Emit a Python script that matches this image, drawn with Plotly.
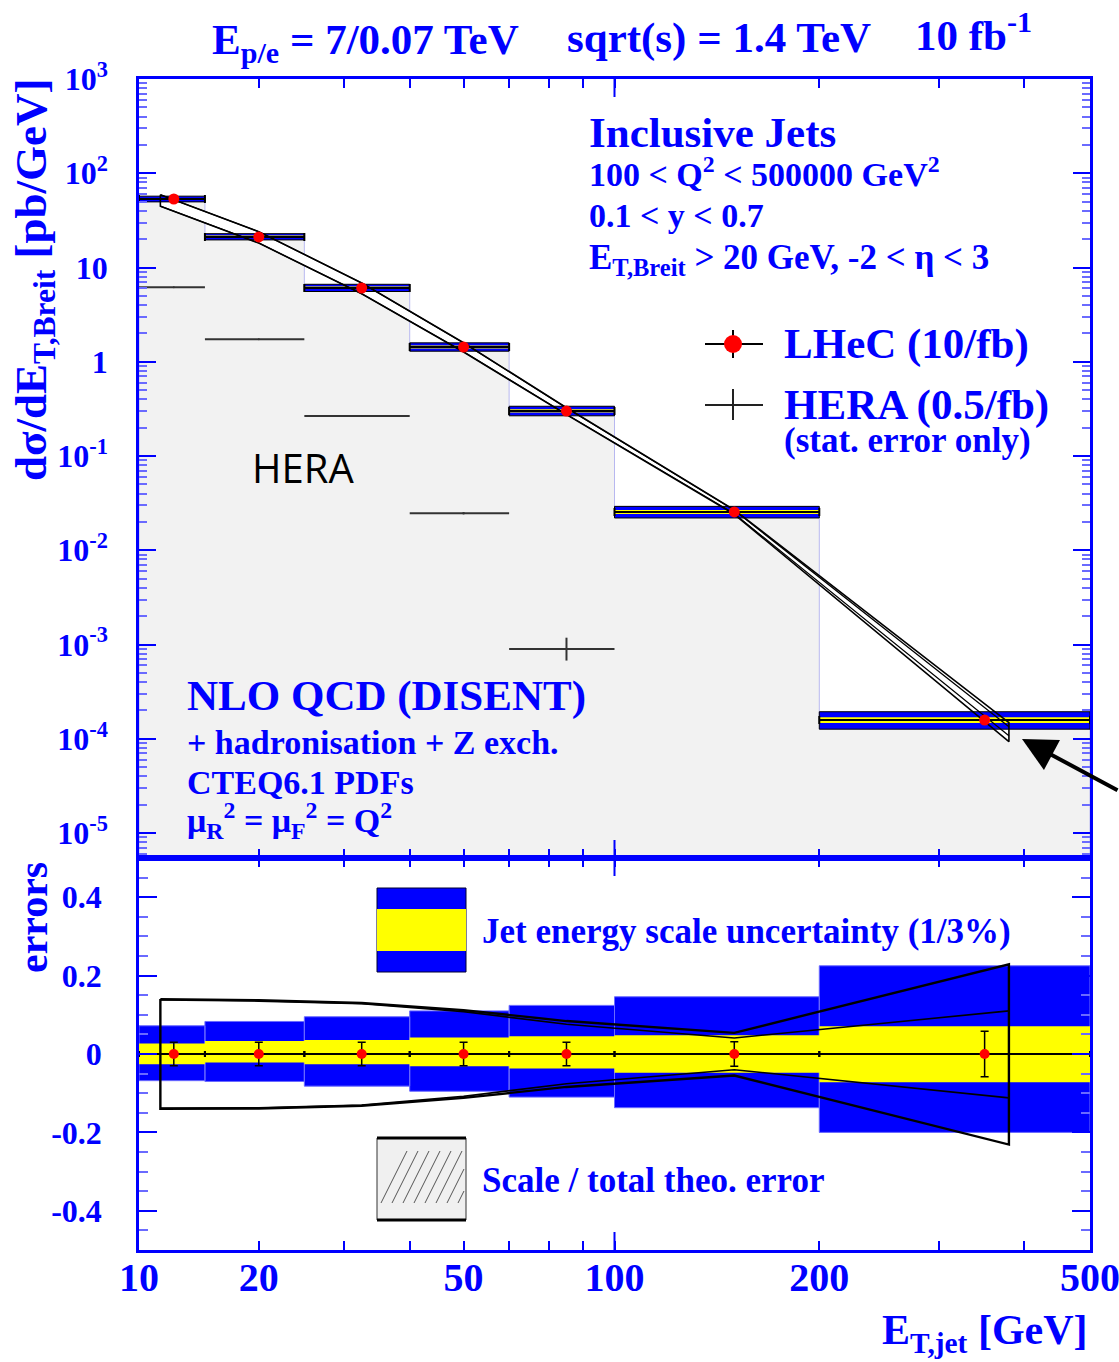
import math
import plotly.graph_objects as go

# ---------------- data ----------------
bin_lo = [20, 25, 35, 50, 70, 100, 200]
bin_hi = [25, 35, 50, 70, 100, 200, 500]
et_center = [22.5, 30, 42.5, 60, 85, 150, 350]
lhec_xsec = [53.3, 21.1, 6.06, 1.43, 0.30, 0.0255, 1.58e-4]
lhec_stat = [0.030, 0.030, 0.030, 0.030, 0.030, 0.031, 0.058]

jes3_up = [0.072, 0.083, 0.095, 0.110, 0.124, 0.146, 0.225]
jes3_dn = [0.068, 0.070, 0.082, 0.095, 0.110, 0.137, 0.200]
jes1_up = [0.027, 0.033, 0.036, 0.042, 0.045, 0.048, 0.071]
jes1_dn = [0.026, 0.022, 0.026, 0.031, 0.037, 0.048, 0.072]

hera_center = [22.5, 30, 42.5, 60, 85]
hera_lo = [20, 25, 35, 50, 70]
hera_hi = [25, 35, 50, 70, 100]
hera_xsec = [6.17, 1.73, 0.265, 0.0247, 8.95e-4]
hera_stat_up = [0.005, 0.008, 0.012, 0.025, 0.32]
hera_stat_dn = [0.005, 0.008, 0.012, 0.025, 0.245]

th_et = [21.5, 30, 42.5, 60, 85, 150, 380]
th_xsec = [52.0, 21.1, 6.06, 1.43, 0.30, 0.0255, 1.21e-4]
th_tot_up = [0.140, 0.137, 0.130, 0.112, 0.084, 0.054, 0.229]
th_tot_dn = [0.140, 0.139, 0.132, 0.112, 0.084, 0.055, 0.231]
th_scl_up = [0.138, 0.135, 0.128, 0.108, 0.076, 0.041, 0.110]
th_scl_dn = [0.138, 0.137, 0.130, 0.108, 0.076, 0.040, 0.112]

x_tickvals = [20, 30, 60, 100, 200, 500]
x_ticktext = ["10", "20", "50", "100", "200", "500"]
x_minorvals = [40, 50, 70, 80, 90, 300, 400]
y_tickvals = [1e-5, 1e-4, 1e-3, 1e-2, 1e-1, 1, 10, 100, 1000]
y_ticktext = ["10<sup>-5</sup>", "10<sup>-4</sup>", "10<sup>-3</sup>", "10<sup>-2</sup>",
              "10<sup>-1</sup>", "1", "10", "10<sup>2</sup>", "10<sup>3</sup>"]
y2_tickvals = [-0.4, -0.2, 0, 0.2, 0.4]
y2_ticktext = ["-0.4", "-0.2", "0", "0.2", "0.4"]

# ---------------- geometry / style ----------------
FIG_W, FIG_H = 1119, 1362
M_L, M_R, M_T, M_B = 139, 29, 79, 112
PW, PH = FIG_W - M_L - M_R, FIG_H - M_T - M_B
SPLIT = (FIG_H - M_B - 858) / PH
BLUE = "#0000ff"
SERIF = "Liberation Serif"
Y_FLOOR = 1e-7
XR = [math.log10(20) - 1e-6, math.log10(500) + 1e-6]


def px(xp):
    return (xp - M_L) / PW


def py(yp):
    return (FIG_H - M_B - yp) / PH


fig = go.Figure()

# gray histogram fill (top)
hx, hy = [bin_lo[0]], [Y_FLOOR]
for lo, hi, v in zip(bin_lo, bin_hi, lhec_xsec):
    hx += [lo, hi]
    hy += [v, v]
hx.append(bin_hi[-1]); hy.append(Y_FLOOR)
fig.add_trace(go.Scatter(x=hx, y=hy, mode="lines", fill="toself", fillcolor="#f2f2f2",
                         line=dict(color="#b8b8f0", width=1), hoverinfo="skip",
                         xaxis="x", yaxis="y", showlegend=False))

# theory total band white fill (top)
tx = th_et + th_et[::-1]
ty_tot = [c * (1 + u) for c, u in zip(th_xsec, th_tot_up)] + \
         [c * (1 - d) for c, d in zip(th_xsec, th_tot_dn)][::-1]
fig.add_trace(go.Scatter(x=tx, y=ty_tot, mode="lines", fill="toself", fillcolor="white",
                         line=dict(width=0), hoverinfo="skip", xaxis="x", yaxis="y",
                         showlegend=False))


def band(lo_list, hi_list, ylo, yhi):
    xs, ys = [], []
    for lo, hi, a, b in zip(lo_list, hi_list, ylo, yhi):
        xs += [lo, hi, hi, lo, lo, None]
        ys += [a, a, b, b, a, None]
    return xs, ys


# JES bands top
bx, byy = band(bin_lo, bin_hi, [v * (1 - d) for v, d in zip(lhec_xsec, jes3_dn)],
               [v * (1 + u) for v, u in zip(lhec_xsec, jes3_up)])
fig.add_trace(go.Scatter(x=bx, y=byy, mode="lines", fill="toself", fillcolor=BLUE,
                         line=dict(color="black", width=1), hoverinfo="skip",
                         xaxis="x", yaxis="y", showlegend=False))
bx, byy = band(bin_lo, bin_hi, [v * (1 - d) for v, d in zip(lhec_xsec, jes1_dn)],
               [v * (1 + u) for v, u in zip(lhec_xsec, jes1_up)])
fig.add_trace(go.Scatter(x=bx, y=byy, mode="lines", fill="toself", fillcolor="#ffff00",
                         line=dict(width=0), hoverinfo="skip",
                         xaxis="x", yaxis="y", showlegend=False))

# theory lines top
fig.add_trace(go.Scatter(x=tx + [tx[0]], y=ty_tot + [ty_tot[0]], mode="lines",
                         line=dict(color="black", width=1.6), hoverinfo="skip",
                         xaxis="x", yaxis="y", showlegend=False))
for rel, sgn in ((th_scl_up, 1), (th_scl_dn, -1)):
    fig.add_trace(go.Scatter(x=th_et, y=[c * (1 + sgn * r) for c, r in zip(th_xsec, rel)],
                             mode="lines", line=dict(color="black", width=1.2),
                             hoverinfo="skip", xaxis="x", yaxis="y", showlegend=False))

# HERA points
fig.add_trace(go.Scatter(
    x=hera_center, y=hera_xsec, mode="markers",
    marker=dict(size=2, color="#333333"),
    error_x=dict(type="data", symmetric=False,
                 array=[h - c for h, c in zip(hera_hi, hera_center)],
                 arrayminus=[c - l for c, l in zip(hera_center, hera_lo)],
                 color="#333333", thickness=2, width=0),
    error_y=dict(type="data", symmetric=False,
                 array=[v * e for v, e in zip(hera_xsec, hera_stat_up)],
                 arrayminus=[v * e for v, e in zip(hera_xsec, hera_stat_dn)],
                 color="#333333", thickness=2, width=0),
    xaxis="x", yaxis="y", showlegend=False, hoverinfo="skip"))

# LHeC points top
fig.add_trace(go.Scatter(
    x=et_center, y=lhec_xsec, mode="markers",
    marker=dict(size=11, color="#ff0000"),
    error_x=dict(type="data", symmetric=False,
                 array=[h - c for h, c in zip(bin_hi, et_center)],
                 arrayminus=[c - l for c, l in zip(et_center, bin_lo)],
                 color="black", thickness=2, width=4),
    error_y=dict(type="data", array=[v * s for v, s in zip(lhec_xsec, lhec_stat)],
                 color="black", thickness=1.5, width=3),
    xaxis="x", yaxis="y", showlegend=False, hoverinfo="skip"))

# ---------------- bottom panel ----------------
bx, byy = band(bin_lo, bin_hi, [-d for d in jes3_dn], jes3_up)
fig.add_trace(go.Scatter(x=bx, y=byy, mode="lines", fill="toself", fillcolor=BLUE,
                         line=dict(color="#6a6aff", width=1), hoverinfo="skip",
                         xaxis="x2", yaxis="y2", showlegend=False))
bx, byy = band(bin_lo, bin_hi, [-d for d in jes1_dn], jes1_up)
fig.add_trace(go.Scatter(x=bx, y=byy, mode="lines", fill="toself", fillcolor="#ffff00",
                         line=dict(width=0), hoverinfo="skip",
                         xaxis="x2", yaxis="y2", showlegend=False))

rel_tot = list(th_tot_up) + [-d for d in th_tot_dn][::-1]
fig.add_trace(go.Scatter(x=tx + [tx[0]], y=rel_tot + [rel_tot[0]], mode="lines",
                         line=dict(color="black", width=2.4), hoverinfo="skip",
                         xaxis="x2", yaxis="y2", showlegend=False))
fig.add_trace(go.Scatter(x=th_et, y=th_scl_up, mode="lines",
                         line=dict(color="black", width=1.6), hoverinfo="skip",
                         xaxis="x2", yaxis="y2", showlegend=False))
fig.add_trace(go.Scatter(x=th_et, y=[-d for d in th_scl_dn], mode="lines",
                         line=dict(color="black", width=1.6), hoverinfo="skip",
                         xaxis="x2", yaxis="y2", showlegend=False))

fig.add_trace(go.Scatter(
    x=et_center, y=[0.0] * len(et_center), mode="markers",
    marker=dict(size=10, color="#ff0000"),
    error_x=dict(type="data", symmetric=False,
                 array=[h - c for h, c in zip(bin_hi, et_center)],
                 arrayminus=[c - l for c, l in zip(et_center, bin_lo)],
                 color="black", thickness=2, width=3),
    error_y=dict(type="data", array=lhec_stat, color="black", thickness=1.5, width=4),
    xaxis="x2", yaxis="y2", showlegend=False, hoverinfo="skip"))

# ---------------- axes ----------------
tickfont_y = dict(family=SERIF, size=32, color=BLUE, weight="bold")
tickfont_x = dict(family=SERIF, size=40, color=BLUE, weight="bold")
common_x = dict(type="log", range=XR, showgrid=False, zeroline=False, showline=True,
                linecolor=BLUE, linewidth=2.5, mirror="ticks", ticks="inside",
                tickcolor=BLUE, tickwidth=2, ticklen=9, tickmode="array",
                tickvals=x_tickvals, automargin=False,
                minor=dict(tickmode="array", tickvals=x_minorvals, ticks="inside",
                           ticklen=9, tickcolor=BLUE, tickwidth=2, showgrid=False))
fig.update_layout(
    width=FIG_W, height=FIG_H,
    margin=dict(l=M_L, r=M_R, t=M_T, b=M_B, autoexpand=False),
    paper_bgcolor="white", plot_bgcolor="white", showlegend=False,
    xaxis=dict(common_x, anchor="y", showticklabels=False, ticktext=x_ticktext),
    xaxis2=dict(common_x, anchor="y2", matches="x", showticklabels=True,
                ticktext=x_ticktext, tickfont=tickfont_x, ticklabelstandoff=-10,
                ticklabeloverflow="allow"),
    yaxis=dict(type="log", domain=[SPLIT, 1], range=[-5.265, 3], showgrid=False,
               zeroline=False, showline=True, linecolor=BLUE, linewidth=2.5,
               mirror="ticks", ticks="inside", tickcolor=BLUE, tickwidth=2, ticklen=17,
               tickmode="array", tickvals=y_tickvals, ticktext=y_ticktext,
               tickfont=tickfont_y, ticklabelstandoff=22, anchor="x",
               ticklabeloverflow="allow", automargin=False,
               minor=dict(tickmode="array",
                          tickvals=[k * 10.0 ** e for e in range(-6, 3) for k in range(2, 10)],
                          ticks="inside", ticklen=8, tickcolor="#6a6aff", tickwidth=1.5,
                          showgrid=False)),
    yaxis2=dict(domain=[0, SPLIT], range=[-0.5, 0.5], showgrid=False, zeroline=False,
                showline=True, linecolor=BLUE, linewidth=2.5, mirror="ticks",
                ticks="inside", tickcolor=BLUE, tickwidth=2, ticklen=18,
                tickmode="array", tickvals=y2_tickvals, ticktext=y2_ticktext,
                tickfont=tickfont_y, ticklabelstandoff=28, anchor="x2", automargin=False,
                minor=dict(dtick=0.05, ticks="inside", ticklen=9, tickcolor="#6a6aff",
                           tickwidth=1.5, showgrid=False)),
)

# long tick at 100 GeV on all four horizontal edges
f100 = (2.0 - XR[0]) / (XR[1] - XR[0])
top_h = 1 - SPLIT
for yref, y0, y1 in (("y2 domain", 0, 18 / (SPLIT * PH)), ("y2 domain", 1, 1 - 18 / (SPLIT * PH)),
                     ("y domain", 0, 18 / (top_h * PH)), ("y domain", 1, 1 - 18 / (top_h * PH))):
    fig.add_shape(type="line", xref="x domain", yref=yref, x0=f100, x1=f100, y0=y0, y1=y1,
                  line=dict(color=BLUE, width=2))

# ---------------- texts ----------------
def txt(text, xp, yp, size, xanchor="left", color=BLUE, family=SERIF, bold=True, angle=0):
    fig.add_annotation(text=text, x=px(xp), y=py(yp), xref="paper", yref="paper",
                       xanchor=xanchor, yanchor="middle", showarrow=False, textangle=angle,
                       font=dict(family=family, size=size, color=color,
                                 weight="bold" if bold else "normal"))


txt("E<sub>p/e</sub> = 7/0.07 TeV", 210, 43, 43)
txt("sqrt(s) = 1.4 TeV", 565, 38, 43)
txt("10 fb<sup>-1</sup>", 913, 32, 43)

txt("Inclusive Jets", 587, 132, 43)
txt("100 &lt; Q<sup>2</sup> &lt; 500000 GeV<sup>2</sup>", 587, 172, 34)
txt("0.1 &lt; y &lt; 0.7", 587, 216, 34)
txt("E<sub>T,Breit</sub> &gt; 20 GeV, -2 &lt; η &lt; 3", 587, 259, 35)

txt("LHeC (10/fb)", 782, 344, 43)
txt("HERA (0.5/fb)", 782, 405, 43)
txt("(stat. error only)", 782, 441, 35)

txt("HERA", 250, 467, 40, color="black", family="Open Sans", bold=False)

txt("NLO QCD (DISENT)", 185, 696, 43)
txt("+ hadronisation + Z exch.", 185, 742, 34)
txt("CTEQ6.1 PDFs", 185, 782, 34)
txt("μ<sub>R</sub><sup>2</sup> = μ<sub>F</sub><sup>2</sup> = Q<sup>2</sup>", 185, 820, 34)

txt("Jet energy scale uncertainty (1/3%)", 480, 932, 35)
txt("Scale / total theo. error", 480, 1180, 35)

txt("dσ/dE<sub>T,Breit</sub> [pb/GeV]", 34, 280, 45, xanchor="center", angle=-90)
txt("errors", 33, 918, 42, xanchor="center", angle=-90)
txt("E<sub>T,jet</sub> [GeV]", 1090, 1333, 42, xanchor="right")

# legend keys (top right)
def pline(x0, y0, x1, y1, color="black", width=2):
    fig.add_shape(type="line", xref="paper", yref="paper", x0=px(x0), y0=py(y0),
                  x1=px(x1), y1=py(y1), line=dict(color=color, width=width))


def prect(x0, y0, x1, y1, fill, color="black", width=1):
    fig.add_shape(type="rect", xref="paper", yref="paper", x0=px(x0), y0=py(y0),
                  x1=px(x1), y1=py(y1), fillcolor=fill, line=dict(color=color, width=width))


pline(705, 344, 763, 344)
pline(733, 330, 733, 358)
fig.add_shape(type="circle", xref="paper", yref="paper", x0=px(724), x1=px(742),
              y0=py(353), y1=py(335), fillcolor="#ff0000", line=dict(color="#ff0000", width=0))
pline(705, 405, 763, 405, color="#222222")
pline(733, 389, 733, 420, color="#222222")

# legend keys (bottom panel)
prect(377, 888, 466, 972, BLUE, color="#000033", width=1)
prect(377, 909, 466, 951, "#ffff00", color="#ffff00", width=0)
prect(377, 1138, 466, 1220, "#f0f0f0", color="#333333", width=1)
pline(377, 1138, 466, 1138, width=3)
pline(377, 1220, 466, 1220, width=3)
for k in range(8):
    x0 = 381 + 11 * k
    pline(x0, 1203, min(x0 + 26, 464), 1203 - (min(x0 + 26, 464) - x0) * 2.0,
          color="#555555", width=1)

# arrow
fig.add_annotation(x=px(1022), y=py(739), xref="paper", yref="paper", text="",
                   showarrow=True, ax=98, ay=52, arrowhead=2, arrowsize=1.7,
                   arrowwidth=4, arrowcolor="black")

fig.write_html("out.html", config={"displayModeBar": False},
               post_script="document.body.style.margin='0px';")
